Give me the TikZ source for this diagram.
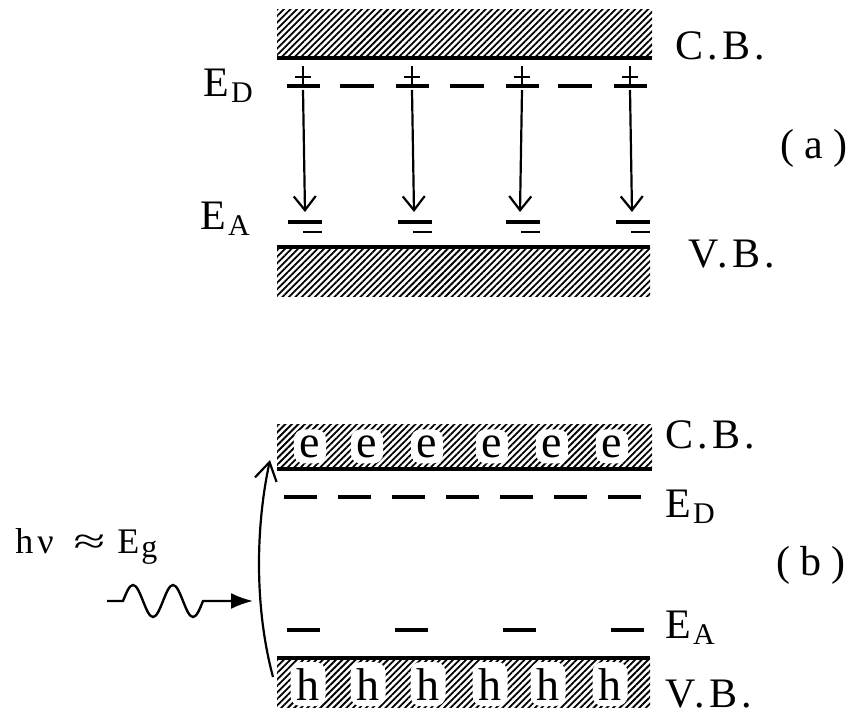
\documentclass[tikz,border=0pt]{standalone}
\usepackage{graphicx}
\usepackage{fontspec}
\setmainfont{Liberation Serif}
\newfontfamily\lblfont[LetterSpace=10]{Liberation Serif}
\usetikzlibrary{
  arrows.meta,%
  patterns.meta,%
  positioning
}
\newcommand{\lvlsub}[1]{\raisebox{-3pt}{\fontsize{15}{15}\selectfont #1}}
\tikzset{
  band/.style={pattern={Lines[angle=45,distance=2.3pt,line width=0.9pt]}},
  bandline/.style={line width=1.6pt},
  level/.style={line width=1.7pt},
  charge/.style={line width=1pt},
  trans/.style={line width=1.1pt, -{Straight Barb[length=7pt,width=11pt]}},
  pump/.style={line width=1.1pt, -{Straight Barb[length=9pt,width=11pt]}},
  wave/.style={line width=1.2pt, -{Latex[length=11pt,width=8pt]}},
  lbl/.style={anchor=base west, inner sep=0pt, font=\lblfont\fontsize{21}{24}\selectfont},
  carrier/.style={anchor=base, fill=white, rounded corners=5pt, inner sep=3pt,
    font=\fontsize{23}{26}\selectfont},
}

\begin{document}
\begin{tikzpicture}[x=0.5pt,y=-0.5pt]
  \useasboundingbox (0,0) rectangle (856,716);
  % (a) donor to acceptor
  \fill[band] (277,10) rectangle (652,58);
  \draw[bandline] (277,58) -- (652,58);
  \fill[band] (277,247) rectangle (650,297);
  \draw[bandline] (277,247) -- (650,247);
  \foreach \d/\a/\t [count=\i] in {303/305/305, 412/415/414, 522/523/520, 630/633/632}{
    \draw[level] (\d-16,86) -- (\d+17,86);
    \draw[charge] (\d,66) -- (\d,86) (\d-8,77) -- (\d+8,77);
    \draw[level] (\a-17,222) -- (\a+17,222);
    \draw[charge, line width=1.4pt] (\a-2,232) -- (\a+17,232);
    \coordinate (don\i) at (\d,90);
    \coordinate (acc\i) at (\t,212);
    \draw[trans] (don\i) -- (acc\i);
  }
  \foreach \x in {340,450,558}
    \draw[level] (\x,86) -- (\x+34,86);
  \node[lbl] (eda) at (203,97) {E\kern1pt\lvlsub{D}};
  \node[lbl] (eaa) at (200,230) {E\kern1pt\lvlsub{A}};
  \node[lbl] (cba) at (675,60) {C.B.};
  \node[lbl] (vba) at (688,268) {V.B.};
  \node[lbl, anchor=west] (taga) at (780,148) {(\hspace{5pt}a\hspace{5pt})};
  % (b) band to band
  \fill[band] (277,424) rectangle (652,469);
  \foreach \x [count=\i] in {310,367,427,492,552,612}
    \node[carrier] (e\i) at (\x,457) {e};
  \draw[bandline] (277,469) -- (652,469);
  \draw[level, dash pattern=on 16.5pt off 10.5pt] (284,497) -- (645,497);
  \draw[level, dash pattern=on 16.5pt off 37.5pt] (287,630) -- (647,630);
  \fill[band] (277,658) rectangle (650,707);
  \draw[bandline] (277,658) -- (650,658);
  \foreach \x [count=\i] in {308,368,428,490,548,610}
    \node[carrier] (h\i) at (\x,700) {h};
  \coordinate (vbfoot) at (273,677);
  \coordinate (cbhit) at (270,460);
  \draw[pump] (vbfoot) .. controls (255,610) and (255,530) .. (cbhit);
  \coordinate (photon) at (107,601);
  \coordinate (photonend) at (253,601);
  \draw[wave] (photon) -- ++(16,0) sin ++(10,-16) cos ++(10,16) sin ++(10,16) cos ++(10,-16)
    sin ++(10,-16) cos ++(10,16) sin ++(10,16) cos ++(10,-16) -- (photonend);
  \node[anchor=base west, inner sep=0pt, font=\fontsize{18}{22}\selectfont] (hnu) at (15,553)
    {h\hspace{2pt}ν\hspace{10pt}\scalebox{1.6}[1]{≈}\hspace{6pt}E\hspace{1pt}\raisebox{-2pt}{\fontsize{16}{16}\selectfont g}};
  \node[lbl] (cbb) at (665,448) {C.B.};
  \node[lbl] (edb) at (665,517) {E\kern1pt\lvlsub{D}};
  \node[lbl, anchor=west] (tagb) at (776,565) {(\hspace{5pt}b\hspace{5pt})};
  \node[lbl] (eab) at (665,638) {E\kern1pt\lvlsub{A}};
  \node[lbl] (vbb) at (665,707) {V.B.};
\end{tikzpicture}
\end{document}
